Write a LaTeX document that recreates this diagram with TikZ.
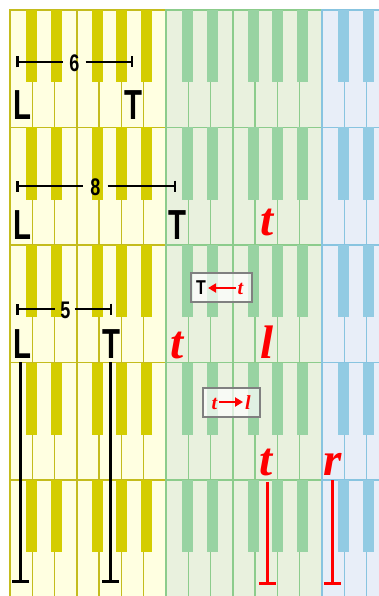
\documentclass[tikz,border=0pt]{standalone}
\usepackage{fontspec}
\usetikzlibrary{arrows.meta}
\newfontfamily\lsans{Liberation Sans}
\newfontfamily\lserif{Liberation Serif}
\definecolor{ywf}{RGB}{255,255,225}
\definecolor{ywl}{RGB}{196,188,30}
\definecolor{ybk}{RGB}{212,205,0}
\definecolor{gwf}{RGB}{233,241,222}
\definecolor{gwl}{RGB}{140,204,140}
\definecolor{gbk}{RGB}{152,211,162}
\definecolor{bwf}{RGB}{232,238,248}
\definecolor{bwl}{RGB}{136,196,224}
\definecolor{bbk}{RGB}{146,203,227}
\definecolor{redt}{RGB}{255,0,0}
\tikzset{
  bigletter/.style={inner sep=0pt, anchor=base, font=\lsans\bfseries\fontsize{42}{42}\selectfont},
  redletter/.style={inner sep=0pt, anchor=base, text=redt, font=\lserif\bfseries\itshape\fontsize{47}{47}\selectfont},
  digit/.style={inner sep=0pt, font=\lsans\bfseries\fontsize{24}{24}\selectfont},
  span/.style={line width=2.5pt, black},
  spantip/.style={{Bar[width=11pt]}-},
  spantipr/.style={-{Bar[width=11pt]}},
  vbar/.style={line width=3pt, -{Bar[width=17pt]}},
  rulebox/.style={draw=gray, line width=1.2pt, fill=white, fill opacity=0.7, text opacity=1, minimum width=61pt, minimum height=29pt, inner sep=0pt},
  smallT/.style={inner sep=0pt, anchor=base, font=\lsans\bfseries\fontsize{20}{20}\selectfont},
  smallred/.style={inner sep=0pt, anchor=base, text=redt, font=\lserif\bfseries\itshape\fontsize{20}{20}\selectfont},
  redarrow/.style={draw=redt, line width=2.5pt, -{Triangle[length=8pt,width=9pt]}},
}
\begin{document}
\begin{tikzpicture}[x=1pt,y=-1pt]
\useasboundingbox (0,0) rectangle (379,596);
\clip (0,0) rectangle (379,596);
\fill[white] (0,0) rectangle (379,596);
% keyboards
\foreach \r in {0,...,4}{
  \foreach \o/\wf/\wl/\bk in {0/ywf/ywl/ybk, 1/gwf/gwl/gbk, 2/bwf/bwl/bbk}{
    \foreach \k in {0,...,6}{
      \draw[fill=\wf, draw=\wl, line width=1.4pt] ({10+156*\o+\k*156/7},{10+117.5*\r}) rectangle ++(156/7,117.5);
    }
    \foreach \b in {16,41,82,106,131}{
      \fill[\bk] ({10+156*\o+\b},{10+117.5*\r}) rectangle ++(11,72);
    }
  }
}
% row 1
\node[bigletter] (L1) at (22,120) {\scalebox{0.7}[1]{L}};
\node[bigletter] (T1) at (133,120) {\scalebox{0.7}[1]{T}};
\node[digit] (n6) at (74.5,63.5) {\scalebox{0.75}[1]{6}};
\coordinate (b1s) at (16,62);
\coordinate (b1e) at (133,62);
\draw[span,spantip] (b1s) -- ([xshift=-6pt]b1s -| n6.west);
\draw[span,spantipr] ([xshift=6pt]b1e -| n6.east) -- (b1e);
% row 2
\node[bigletter] (L2) at (22,239) {\scalebox{0.7}[1]{L}};
\node[bigletter] (T2) at (177,239) {\scalebox{0.7}[1]{T}};
\node[redletter] (t2) at (267,235) {t};
\node[digit] (n8) at (95.5,187.5) {\scalebox{0.75}[1]{8}};
\coordinate (b2s) at (16,186);
\coordinate (b2e) at (176,186);
\draw[span,spantip] (b2s) -- ([xshift=-7pt]b2s -| n8.west);
\draw[span,spantipr] ([xshift=7pt]b2e -| n8.east) -- (b2e);
% row 3
\node[bigletter] (L3) at (22,358) {\scalebox{0.7}[1]{L}};
\node[bigletter] (T3) at (111,358) {\scalebox{0.7}[1]{T}};
\node[redletter] (t3) at (177,358) {t};
\node[redletter] (l3) at (267,358) {l};
\node[digit] (n5) at (65.5,310.5) {\scalebox{0.75}[1]{5}};
\coordinate (b3s) at (16,309);
\coordinate (b3e) at (112,309);
\draw[span,spantip] (b3s) -- ([xshift=-5pt]b3s -| n5.west);
\draw[span,spantipr] ([xshift=4pt]b3e -| n5.east) -- (b3e);
\node[rulebox] (box1) at (221.5,287.5) {};
\node[smallT] (bT) at (201,294) {\scalebox{0.8}[1]{T}};
\node[smallred] (bt) at (240.5,294) {t};
\draw[redarrow] ([xshift=-2pt]bt.west |- 0,288) -- ([xshift=2pt]bT.east |- 0,288);
% row 4
\node[rulebox, minimum width=57pt] (box2) at (231.5,402.5) {};
\node[smallred] (ct) at (214.5,409) {t};
\node[smallred] (cl) at (248,409) {l};
\draw[redarrow] ([xshift=2pt]ct.east |- 0,402) -- ([xshift=-2pt]cl.west |- 0,402);
\node[redletter] (t4) at (266,475) {t};
\node[redletter] (r4) at (333,475) {r};
% verticals
\coordinate (eL) at (20.5,583);
\coordinate (eT) at (110,583);
\coordinate (et) at (267,585);
\coordinate (er) at (332,585);
\draw[vbar, black] (L3.south -| eL) ++(0,4) -- (eL);
\draw[vbar, black] (T3.south -| eT) ++(0,4) -- (eT);
\draw[vbar, redt] (t4.south -| et) ++(0,6) -- (et);
\draw[vbar, redt] (r4.south -| er) ++(0,5) -- (er);
\end{tikzpicture}
\end{document}
